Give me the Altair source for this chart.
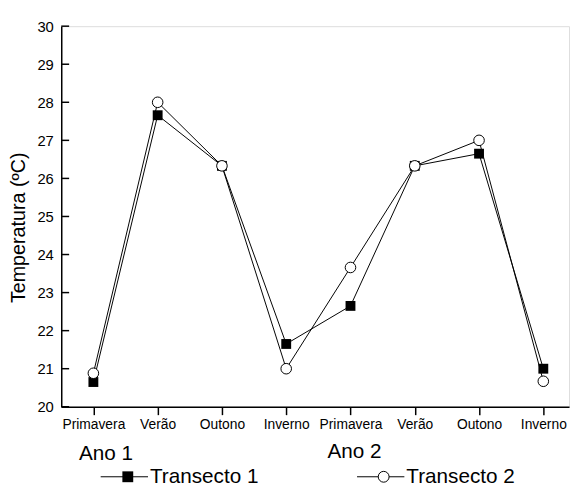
import json
import altair as alt
import pandas as pd

# ---- data ----
seasons = ["Primavera", "Verão", "Outono", "Inverno",
           "Primavera", "Verão", "Outono", "Inverno"]
positions = [1, 2, 3, 4, 5, 6, 7, 8]
transecto1 = [20.65, 27.66, 26.33, 21.65, 22.65, 26.33, 26.65, 21.0]
transecto2 = [20.88, 28.0, 26.33, 21.0, 23.66, 26.33, 27.0, 20.67]
series_names = ["Transecto 1", "Transecto 2"]
year_labels = ["Ano 1", "Ano 2"]
y_ticks = [20, 21, 22, 23, 24, 25, 26, 27, 28, 29, 30]
y_title = "Temperatura (ºC)"

FONT = "Liberation Sans"

df = pd.DataFrame({
    "pos": positions * 2,
    "val": transecto1 + transecto2,
    "serie": [series_names[0]] * 8 + [series_names[1]] * 8,
})
df1 = df[df.serie == series_names[0]]
df2 = df[df.serie == series_names[1]]

label_expr = json.dumps(seasons) + "[datum.value - 1]"

x_enc = alt.X(
    "pos:Q",
    scale=alt.Scale(domain=[0.5, 8.4], nice=False, zero=False),
    axis=alt.Axis(values=positions, labelExpr=label_expr, title=None, grid=False,
                  tickSize=8, labelPadding=3, labelFontSize=14, labelFont=FONT,
                  labelColor="black", domainColor="black", tickColor="black",
                  domainWidth=1.5, tickWidth=1.5, labelFlush=False, labelOverlap=False),
)
y_enc = alt.Y(
    "val:Q",
    scale=alt.Scale(domain=[20, 30], nice=False, zero=False),
    axis=alt.Axis(values=y_ticks, title=y_title, grid=False, tickSize=0,
                  labelPadding=8, labelFontSize=15, labelFont=FONT, labelColor="black",
                  labelOverlap=False, labelFlush=False,
                  domainColor="black", domainWidth=1.5,
                  titleFont=FONT, titleFontSize=20, titleFontWeight="normal",
                  titleColor="black", titleX=-33, titleY=204),
)

lines = alt.Chart(df).mark_line(color="black", strokeWidth=1).encode(
    x=x_enc, y=y_enc, detail="serie:N"
)
squares = alt.Chart(df1).mark_point(
    shape="square", filled=True, color="black", size=100, opacity=1
).encode(x=x_enc, y=y_enc)
circles = alt.Chart(df2).mark_point(
    shape="circle", filled=True, fill="white", stroke="black", strokeWidth=1,
    size=115, opacity=1
).encode(x=x_enc, y=y_enc)

# inward y ticks
ytick_df = pd.DataFrame({"val": y_ticks})
yticks = alt.Chart(ytick_df).mark_rule(color="black", strokeWidth=1.5).encode(
    y=y_enc, x=alt.value(0), x2=alt.value(8)
)

# year labels
one = pd.DataFrame({"k": [0]})
ano1 = alt.Chart(one).mark_text(
    text=year_labels[0], font=FONT, fontSize=21, align="left", baseline="alphabetic",
    color="black"
).encode(x=alt.value(18), y=alt.value(440))
ano2 = alt.Chart(one).mark_text(
    text=year_labels[1], font=FONT, fontSize=21, align="left", baseline="alphabetic",
    color="black"
).encode(x=alt.value(270), y=alt.value(438))

# manual legend
LY = 457
leg_rule1 = alt.Chart(one).mark_rule(color="black", strokeWidth=1).encode(
    x=alt.value(40), x2=alt.value(88), y=alt.value(LY))
leg_sq = alt.Chart(one).mark_point(shape="square", filled=True, color="black",
                                    size=121, opacity=1).encode(
    x=alt.value(67.5), y=alt.value(LY))
leg_txt1 = alt.Chart(one).mark_text(
    text=series_names[0], font=FONT, fontSize=21, align="left", baseline="middle",
    color="black").encode(x=alt.value(90), y=alt.value(LY))
leg_rule2 = alt.Chart(one).mark_rule(color="black", strokeWidth=1).encode(
    x=alt.value(300), x2=alt.value(348), y=alt.value(LY))
leg_ci = alt.Chart(one).mark_point(shape="circle", filled=True, fill="white",
                                    stroke="black", strokeWidth=1, size=121,
                                    opacity=1).encode(
    x=alt.value(327), y=alt.value(LY))
leg_txt2 = alt.Chart(one).mark_text(
    text=series_names[1], font=FONT, fontSize=21, align="left", baseline="middle",
    color="black").encode(x=alt.value(350), y=alt.value(LY))

chart = alt.layer(
    lines, yticks, squares, circles, ano1, ano2,
    leg_rule1, leg_sq, leg_txt1, leg_rule2, leg_ci, leg_txt2
).properties(
    width=515, height=386,
    autosize=alt.AutoSizeParams(type="none"),
    padding={"left": 54, "top": 15, "right": 2, "bottom": 82},
).configure_view(stroke=None).configure(background="white")

chart.save("out.html", embed_options={"renderer": "svg", "actions": False})
